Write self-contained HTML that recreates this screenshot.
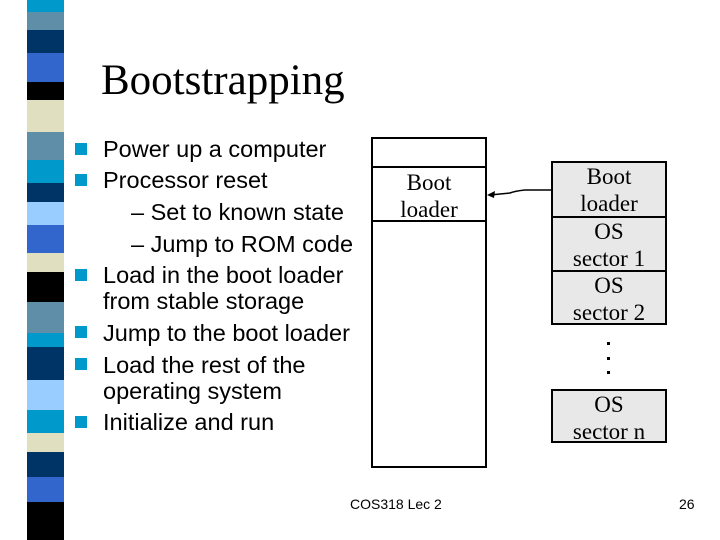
<!DOCTYPE html>
<html><head><style>
body{margin:0;width:720px;height:540px;background:#fff;position:relative;overflow:hidden;font-family:"Liberation Sans",sans-serif}
.s{position:absolute;left:27px;width:37px}
.b{position:absolute;left:75px;width:12px;height:12px;background:#0099cc}
.t{position:absolute;left:103px;font-size:23.5px;line-height:26px;white-space:nowrap;color:#000}
.box{position:absolute;border:2px solid #000;box-sizing:border-box;font-family:"Liberation Serif",serif;font-size:23px;text-align:center;line-height:27px}
.g{background:#e8e8e8}
</style></head><body>
<div class="s" style="top:0;height:12px;background:#0099cc"></div>
<div class="s" style="top:12px;height:18px;background:#5f8fa8"></div>
<div class="s" style="top:30px;height:23px;background:#003366"></div>
<div class="s" style="top:53px;height:29px;background:#3366cc"></div>
<div class="s" style="top:82px;height:18px;background:#000"></div>
<div class="s" style="top:100px;height:32px;background:#e0e0c0"></div>
<div class="s" style="top:132px;height:28px;background:#5f8fa8"></div>
<div class="s" style="top:160px;height:23px;background:#0099cc"></div>
<div class="s" style="top:183px;height:19px;background:#003366"></div>
<div class="s" style="top:202px;height:23px;background:#99ccff"></div>
<div class="s" style="top:225px;height:28px;background:#3366cc"></div>
<div class="s" style="top:253px;height:19px;background:#e0e0c0"></div>
<div class="s" style="top:272px;height:30px;background:#000"></div>
<div class="s" style="top:302px;height:31px;background:#5f8fa8"></div>
<div class="s" style="top:333px;height:14px;background:#0099cc"></div>
<div class="s" style="top:347px;height:33px;background:#003366"></div>
<div class="s" style="top:380px;height:30px;background:#99ccff"></div>
<div class="s" style="top:410px;height:23px;background:#0099cc"></div>
<div class="s" style="top:433px;height:19px;background:#e0e0c0"></div>
<div class="s" style="top:452px;height:25px;background:#003366"></div>
<div class="s" style="top:477px;height:25px;background:#3366cc"></div>
<div class="s" style="top:502px;height:38px;background:#000"></div>

<div style="position:absolute;left:101px;top:56px;font-family:'Liberation Serif',serif;font-size:43px;color:#000">Bootstrapping</div>

<div class="b" style="top:143px"></div>
<div class="b" style="top:174px"></div>
<div class="b" style="top:269px"></div>
<div class="b" style="top:326px"></div>
<div class="b" style="top:358px"></div>
<div class="b" style="top:416px"></div>
<div class="t" style="top:136px">Power up a computer</div>
<div class="t" style="top:167px">Processor reset</div>
<div class="t" style="top:199px;left:131px">– Set to known state</div>
<div class="t" style="top:231px;left:131px">– Jump to ROM code</div>
<div class="t" style="top:262px">Load in the boot loader<br>from stable storage</div>
<div class="t" style="top:320px">Jump to the boot loader</div>
<div class="t" style="top:352px">Load the rest of the<br>operating system</div>
<div class="t" style="top:409px">Initialize and run</div>

<div class="box" style="left:371px;top:137px;width:116px;height:331px"></div>
<div class="box" style="left:371px;top:166px;width:116px;height:56px;padding-top:1px">Boot<br>loader</div>
<div class="box g" style="left:551px;top:161px;width:116px;height:57px">Boot<br>loader</div>
<div class="box g" style="left:551px;top:216px;width:116px;height:56px">OS<br>sector 1</div>
<div class="box g" style="left:551px;top:270px;width:116px;height:55px">OS<br>sector 2</div>
<div class="box g" style="left:551px;top:389px;width:116px;height:54px">OS<br>sector n</div>
<svg style="position:absolute;left:0;top:0" width="720" height="540">
<path d="M551 190 L525 190 Q515 191 510 193 L490 195" fill="none" stroke="#000" stroke-width="1.5"/>
<path d="M487 195 L495 191 L494 198 Z" fill="#000"/>
<rect x="607" y="342" width="3" height="3" fill="#000"/>
<rect x="607" y="357" width="3" height="3" fill="#000"/>
<rect x="607" y="371" width="3" height="3" fill="#000"/>
</svg>
<div style="position:absolute;left:350px;top:496px;font-size:14px">COS318 Lec 2</div>
<div style="position:absolute;left:679px;top:496px;font-size:14px">26</div>
</body></html>
